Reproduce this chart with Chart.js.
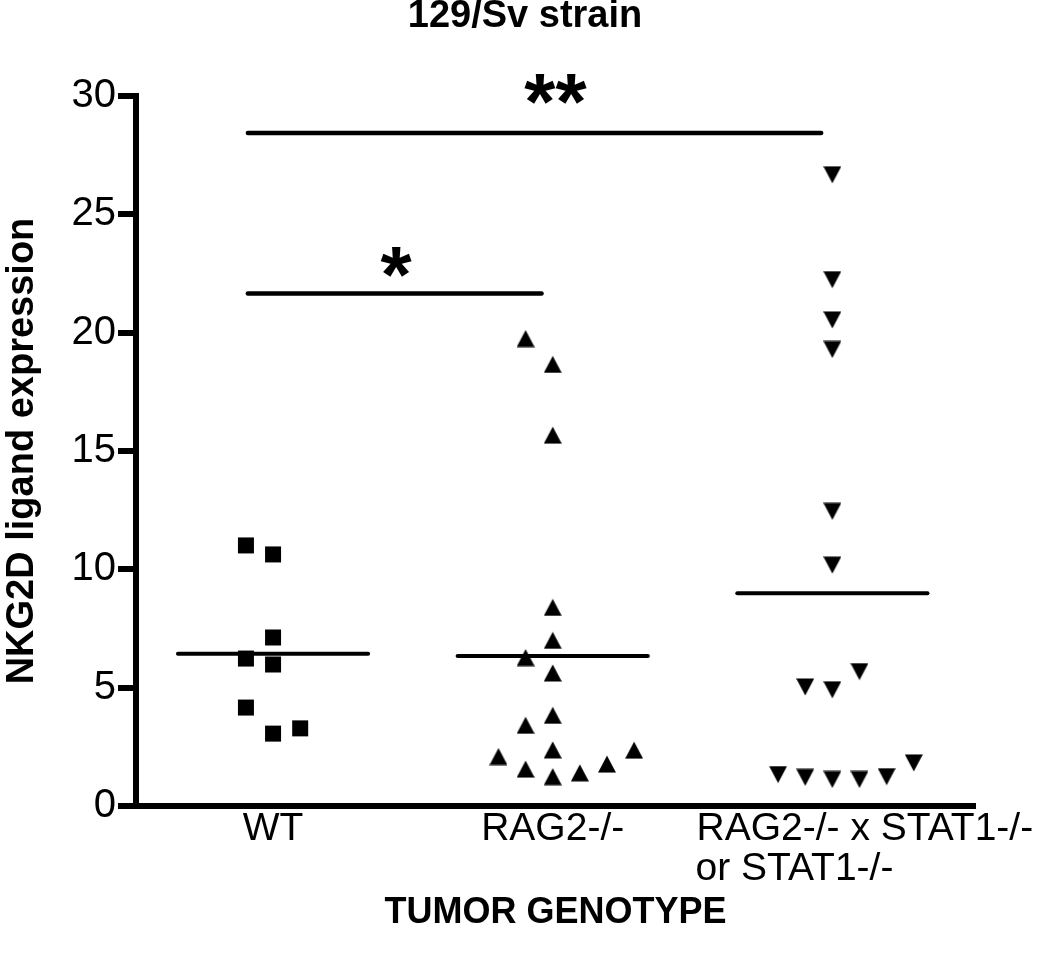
<!DOCTYPE html>
<html lang="en">
<head>
  <meta charset="UTF-8">
  <title>129/Sv strain</title>
  <script src="https://cdn.jsdelivr.net/npm/chart.js"></script>
  <style>
    body {
      margin: 0;
      background: #fff;
    }
    canvas {
      display: block;
    }
  </style>
</head>
<body>

<canvas id="chart" width="1050" height="957"></canvas>

<script>
  // groups on the x axis (third label is two lines)
  const categories = ['WT', 'RAG2-/-', ['RAG2-/- x STAT1-/-', 'or STAT1-/-']];
  const yTicks = [0, 5, 10, 15, 20, 25, 30];

  // NKG2D ligand expression per tumour
  // *Cols = which jitter column the point sits in (0 = group centre)
  const wtValues = [11.01, 10.63, 7.12, 6.23, 5.98, 4.16, 3.06, 3.28];
  const wtCols   = [-1, 0, 0, -1, 0, -1, 0, 1];

  const ragValues = [19.75, 18.66, 15.67, 8.39, 7.00, 6.27, 5.62, 3.83, 3.41, 2.09, 2.37, 2.36, 1.56, 1.24, 1.40, 1.77];
  const ragCols   = [-1, 0, 0, 0, 0, -1, 0, 0, -1, -2, 0, 3, -1, 0, 1, 2];

  const statValues = [26.67, 22.24, 20.54, 19.29, 12.45, 10.18, 5.68, 5.03, 4.91, 1.33, 1.21, 1.12, 1.12, 1.24, 1.82];
  const statCols   = [0, 0, 0, 0, 0, 0, 1, -1, 0, -2, -1, 0, 1, 2, 3];

  // significance bars
  const sigLabels = ['*', '**'];
  const sigFrom   = [-0.09, -0.09];
  const sigTo     = [0.96, 1.96];
  const sigY      = [21.66, 28.44];
  const sigStarX  = [0.44, 1.01];
  const sigStarY  = [22.97, 30.28];

  const FONT = "'Liberation Sans', Arial, sans-serif";
  const LABEL_SIZE = 39;
  const colStep = 0.097;   // jitter column spacing in category units
  const meanHalf = 0.34;   // half length of the mean bar

  function marker(kind) {
    const c = document.createElement('canvas');
    c.width = 18;
    c.height = 18;
    const g = c.getContext('2d');
    g.fillStyle = '#000';
    g.beginPath();
    if (kind === 'square') {
      g.rect(1, 1, 16, 16);
    } else if (kind === 'up') {
      g.moveTo(9, 0.5); g.lineTo(18, 17.5); g.lineTo(0, 17.5);
    } else {
      g.moveTo(0, 0.5); g.lineTo(18, 0.5); g.lineTo(9, 17.5);
    }
    g.closePath();
    g.fill();
    return c;
  }

  // multi-line tick label: lines left aligned with each other, block pushed right by shiftPx
  function leftAligned(lines, shiftPx) {
    const g = document.createElement('canvas').getContext('2d');
    g.font = LABEL_SIZE + 'px ' + FONT;
    const sp = g.measureText(' ').width;
    const lead = ' '.repeat(Math.round(2 * shiftPx / sp));
    const w = lines.map(l => g.measureText(lead + l).width);
    const maxW = Math.max(...w);
    return lines.map((l, i) => lead + l + ' '.repeat(Math.round((maxW - w[i]) / sp)));
  }
  const tickText = categories.map(c => Array.isArray(c) ? leftAligned(c, 32) : c);

  const mean = a => a.reduce((s, v) => s + v, 0) / a.length;
  const points = (vals, cols, grp) => vals.map((v, i) => ({ x: grp + cols[i] * colStep, y: v }));
  const meanLine = (vals, grp) => [{ x: grp - meanHalf, y: mean(vals) }, { x: grp + meanHalf, y: mean(vals) }];

  function scatterSet(vals, cols, grp, kind) {
    return {
      data: points(vals, cols, grp),
      pointStyle: marker(kind),
      pointRadius: 9,
      pointHoverRadius: 9,
      showLine: false
    };
  }

  function lineSet(data, width) {
    return {
      data: data,
      showLine: true,
      borderColor: '#000',
      borderWidth: width,
      borderCapStyle: 'round',
      pointRadius: 0,
      pointHoverRadius: 0
    };
  }

  const datasets = [
    lineSet(meanLine(wtValues, 0), 4),
    lineSet(meanLine(ragValues, 1), 4),
    lineSet(meanLine(statValues, 2), 4),
    scatterSet(wtValues, wtCols, 0, 'square'),
    scatterSet(ragValues, ragCols, 1, 'up'),
    scatterSet(statValues, statCols, 2, 'down')
  ];
  sigLabels.forEach((s, i) => {
    datasets.push(lineSet([{ x: sigFrom[i], y: sigY[i] }, { x: sigTo[i], y: sigY[i] }], 4.5));
  });

  // asterisks above the significance bars
  const starPlugin = {
    id: 'stars',
    afterDatasetsDraw(chart) {
      const { ctx, scales: { x, y } } = chart;
      ctx.save();
      ctx.font = 'bold 80px ' + FONT;
      ctx.fillStyle = '#000';
      ctx.textAlign = 'center';
      ctx.textBaseline = 'alphabetic';
      sigLabels.forEach((t, i) => {
        const m = ctx.measureText(t);
        const px = x.getPixelForValue(sigStarX[i]);
        const py = y.getPixelForValue(sigStarY[i]);
        ctx.fillText(t, px, py + (m.actualBoundingBoxAscent - m.actualBoundingBoxDescent) / 2);
      });
      ctx.restore();
    }
  };

  new Chart(document.getElementById('chart'), {
    type: 'scatter',
    data: { datasets: datasets },
    options: {
      responsive: false,
      animation: false,
      layout: { padding: 0 },
      plugins: {
        legend: { display: false },
        tooltip: { enabled: false },
        title: {
          display: true,
          text: '129/Sv strain',
          color: '#000',
          font: { family: FONT, size: 38, weight: 'bold', lineHeight: 0.85 },
          padding: { top: 0, bottom: 63.7 }
        }
      },
      scales: {
        x: {
          type: 'linear',
          min: -0.49,
          max: 2.51,
          afterBuildTicks: s => { s.ticks = [0, 1, 2].map(v => ({ value: v })); },
          afterFit: s => { s.height = 151; s.paddingLeft = 0; s.paddingRight = 0; },
          grid: { display: false, drawTicks: false },
          border: { color: '#000', width: 6 },
          ticks: {
            autoSkip: false,
            maxRotation: 0,
            minRotation: 0,
            padding: 3,
            color: '#000',
            font: { family: FONT, size: LABEL_SIZE, lineHeight: 1.03 },
            callback: v => tickText[v]
          },
          title: {
            display: true,
            text: 'TUMOR GENOTYPE',
            color: '#000',
            font: { family: FONT, size: 36, weight: 'bold', lineHeight: 1.2 },
            padding: { top: 0, bottom: 22 }
          }
        },
        y: {
          min: 0,
          max: 30,
          afterBuildTicks: s => { s.ticks = yTicks.map(v => ({ value: v })); },
          afterFit: s => { s.width = 136; s.paddingTop = 0; s.paddingBottom = 0; },
          grid: {
            drawOnChartArea: false,
            drawTicks: true,
            tickLength: 18,
            tickWidth: 6,
            tickColor: '#000',
            lineWidth: 6,
            color: '#000'
          },
          border: { color: '#000', width: 6 },
          ticks: {
            padding: 2,
            color: '#000',
            font: { family: FONT, size: 40 }
          },
          title: {
            display: true,
            text: 'NKG2D ligand expression',
            color: '#000',
            font: { family: FONT, size: 38, weight: 'bold', lineHeight: 1.2 },
            padding: { top: 0, bottom: 0 }
          }
        },
        // empty strip on the right so the chart title centres on the whole figure
        pad: {
          type: 'linear',
          position: 'right',
          afterFit: s => { s.width = 75; s.paddingTop = 0; s.paddingBottom = 0; },
          ticks: { display: false },
          grid: { display: false },
          border: { display: false }
        }
      }
    },
    plugins: [starPlugin]
  });
</script>

</body>
</html>
